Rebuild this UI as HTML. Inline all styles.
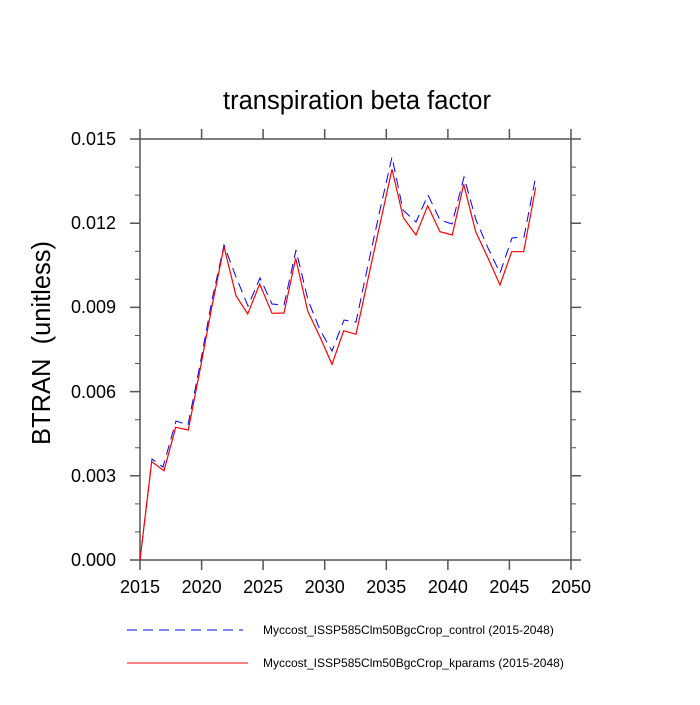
<!DOCTYPE html>
<html><head><style>body{margin:0;background:#fff}</style></head><body>
<svg width="700" height="700" xmlns="http://www.w3.org/2000/svg" font-family="Liberation Sans, sans-serif">
<rect width="700" height="700" fill="#fff"/>
<text x="357" y="109" font-size="25.5" text-anchor="middle">transpiration beta factor</text>
<text transform="translate(50,343) rotate(-90)" font-size="25.5" text-anchor="middle">BTRAN&#160;&#160;(unitless)</text>
<g stroke="#555" stroke-width="1.5" fill="none">
<rect x="140" y="139" width="431" height="421"/>
<path d="M140,560v10M201.6,560v10M263.1,560v10M324.7,560v10M386.3,560v10M447.9,560v10M509.4,560v10M571,560v10
M140,139v-10M201.6,139v-10M263.1,139v-10M324.7,139v-10M386.3,139v-10M447.9,139v-10M509.4,139v-10M571,139v-10
M140,560h-10M140,475.8h-10M140,391.6h-10M140,307.4h-10M140,223.2h-10M140,139h-10
M571,560h10M571,475.8h10M571,391.6h10M571,307.4h10M571,223.2h10M571,139h10"/>
<path stroke-width="1" d="M140,531.9h-5M140,503.9h-5M140,447.7h-5M140,419.7h-5M140,363.5h-5M140,335.5h-5M140,279.3h-5M140,251.3h-5M140,195.1h-5M140,167.1h-5
M571,531.9h5M571,503.9h5M571,447.7h5M571,419.7h5M571,363.5h5M571,335.5h5M571,279.3h5M571,251.3h5M571,195.1h5M571,167.1h5"/>
</g>
<g font-size="18" text-anchor="end">
<text x="116" y="566">0.000</text><text x="116" y="482">0.003</text><text x="116" y="398">0.006</text>
<text x="116" y="313">0.009</text><text x="116" y="229">0.012</text><text x="116" y="145">0.015</text>
</g>
<g font-size="18" text-anchor="middle">
<text x="140" y="593">2015</text><text x="201.6" y="593">2020</text><text x="263.1" y="593">2025</text><text x="324.7" y="593">2030</text>
<text x="386.3" y="593">2035</text><text x="447.9" y="593">2040</text><text x="509.4" y="593">2045</text><text x="571" y="593">2050</text>
</g>
<polyline fill="none" stroke="#00f" stroke-width="1" stroke-dasharray="10,6" points="140,560 152,459 163,467 176,421 188,425 200,365 212,300 224,245 236,277 248,306 260,278 272,304 284,305 296,250 308,300 320,330 332,351 344,320 356,322 368,265 380,210 392,157 403,210 416,222 428,195 440,220 452,224 464,177 476,220 488,248 500,273 512,238 524,237 536,175"/>
<polyline fill="none" stroke="#f00" stroke-width="1.2" points="140,560 151.7,461.7 164,470.7 175.7,427.3 188.3,430 200,370 212,306 224,246.7 236,295.7 247.7,314 259.7,284 272,313.3 284,313 295.7,258.3 307.7,311 320,337 332,364.3 343.7,330.7 356,334.3 368,279 380,224 392,169.3 403.3,217.7 416,235 427.7,205.7 440,231.7 452.3,235 463.7,184.3 475.7,231.7 488,258 500,285 511.7,251.7 523.7,251.7 535.7,187.3"/>
<line x1="127" y1="630" x2="243" y2="630" stroke="#00f" stroke-width="1" stroke-dasharray="10,6"/>
<line x1="127" y1="663" x2="248" y2="663" stroke="#f00" stroke-width="1"/>
<text x="263" y="634" font-size="12">Myccost_ISSP585Clm50BgcCrop_control (2015-2048)</text>
<text x="263" y="667" font-size="12">Myccost_ISSP585Clm50BgcCrop_kparams (2015-2048)</text>
</svg>
</body></html>
